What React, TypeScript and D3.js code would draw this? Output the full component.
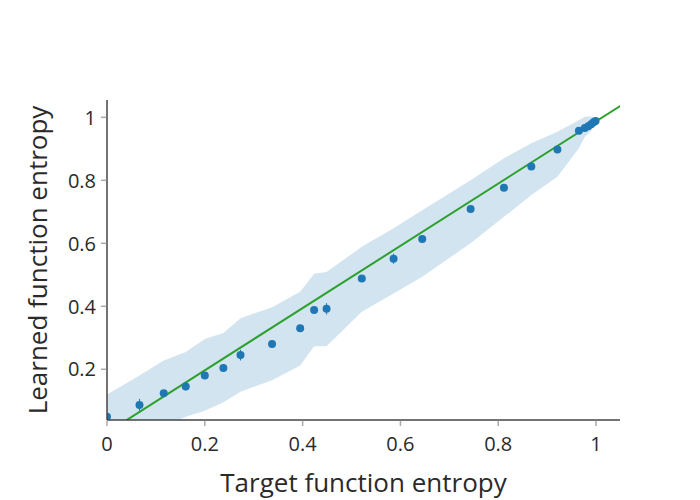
import * as d3 from 'd3';

// readings from the reference plot
const targetEntropy = [0, 0.0665, 0.116, 0.161, 0.2, 0.238, 0.273, 0.3375, 0.395, 0.4235, 0.449, 0.521, 0.586, 0.6446, 0.7435, 0.8117, 0.8677, 0.921, 0.965, 0.977, 0.984, 0.99, 0.995, 0.999];
const learnedEntropy = [0.049, 0.087, 0.124, 0.145, 0.18, 0.204, 0.245, 0.28, 0.33, 0.388, 0.392, 0.488, 0.551, 0.614, 0.709, 0.776, 0.844, 0.898, 0.957, 0.966, 0.972, 0.978, 0.984, 0.988];
const learnedError = [0.01, 0.019, 0.008, 0.012, 0.008, 0.012, 0.017, 0.006, 0.008, 0.01, 0.018, 0.006, 0.016, 0.008, 0.006, 0.006, 0.008, 0.006, 0.008, 0.008, 0.008, 0.008, 0.008, 0.008];
const bandUpper = [0.12, 0.18, 0.228, 0.255, 0.296, 0.315, 0.362, 0.397, 0.446, 0.503, 0.509, 0.589, 0.648, 0.705, 0.8, 0.87, 0.918, 0.954, 0.991, 1.002, 1.003, 1.003, 1.0, 0.996];
const bandLower = [-0.07, -0.02, 0.015, 0.049, 0.068, 0.095, 0.129, 0.165, 0.212, 0.273, 0.273, 0.383, 0.441, 0.494, 0.6, 0.684, 0.753, 0.811, 0.902, 0.938, 0.948, 0.958, 0.97, 0.982];
const refLineX = [0, 1.1];
const refLineY = [-0.001, 1.086];
const xTicks = [0, 0.2, 0.4, 0.6, 0.8, 1];
const yTicks = [0.2, 0.4, 0.6, 0.8, 1];

const W = 700;
const H = 500;
const margin = { left: 107, right: 80, top: 100, bottom: 80 };
const FONT = '"Open Sans", sans-serif';
const TEXT = '#2a2a2a';
const BLUE = '#1f77b4';
const GREEN = '#2ca02c';

const App = () => {
  const x = d3.scaleLinear().domain([0, 1.049]).range([margin.left, W - margin.right]);
  const y = d3.scaleLinear().domain([0.039, 1.055]).range([H - margin.bottom, margin.top]);

  const band = d3
    .area<number>()
    .x((_, i) => x(targetEntropy[i]))
    .y0((_, i) => y(bandLower[i]))
    .y1((d) => y(d));

  const refLine = d3
    .line<number>()
    .x((d) => x(d))
    .y((_, i) => y(refLineY[i]));

  const [x0, x1] = x.range();
  const [yBottom, yTop] = y.range();

  return (
    <div style={{ position: 'absolute', left: 0, top: 0 }}>
      <svg width={W} height={H} style={{ display: 'block', background: '#fff' }}>
        <defs>
          <clipPath id="plot-clip">
            <rect x={x0} y={yTop} width={x1 - x0} height={yBottom - yTop} />
          </clipPath>
        </defs>

        <g clipPath="url(#plot-clip)">
          <path d={band(bandUpper) ?? ''} fill="rgba(31,119,180,0.2)" stroke="none" />
          <path d={refLine(refLineX) ?? ''} fill="none" stroke={GREEN} strokeWidth={2} />
          {targetEntropy.map((t, i) => {
            const cx = x(t);
            return (
              <g key={i}>
                <line
                  x1={cx}
                  x2={cx}
                  y1={y(learnedEntropy[i] - learnedError[i])}
                  y2={y(learnedEntropy[i] + learnedError[i])}
                  stroke={BLUE}
                  strokeWidth={1}
                />
                <circle cx={cx} cy={y(learnedEntropy[i])} r={4} fill={BLUE} />
              </g>
            );
          })}
        </g>

        {/* axes */}
        <line x1={x0} x2={x0} y1={yTop} y2={yBottom} stroke="#444" strokeWidth={1.5} />
        <line x1={x0} x2={x1} y1={yBottom} y2={yBottom} stroke="#444" strokeWidth={1.5} />

        {xTicks.map((t) => (
          <g key={`x${t}`} transform={`translate(${x(t)},${yBottom})`}>
            <line y1={0.75} y2={6} stroke="#aaa" strokeWidth={1.5} />
            <text y={31} textAnchor="middle" fontFamily={FONT} fontSize={20} fill={TEXT}>
              {String(t)}
            </text>
          </g>
        ))}

        {yTicks.map((t) => (
          <g key={`y${t}`} transform={`translate(${x0},${y(t)})`}>
            <line x1={-0.75} x2={-6} stroke="#aaa" strokeWidth={1.5} />
            <text x={-11} dy="0.36em" textAnchor="end" fontFamily={FONT} fontSize={20} fill={TEXT}>
              {String(t)}
            </text>
          </g>
        ))}

        <text
          x={(x0 + x1) / 2}
          y={492}
          textAnchor="middle"
          fontFamily={FONT}
          fontSize={26}
          fill={TEXT}
        >
          Target function entropy
        </text>
        <text
          transform={`translate(47,${(yTop + yBottom) / 2}) rotate(-90)`}
          textAnchor="middle"
          fontFamily={FONT}
          fontSize={26}
          fill={TEXT}
        >
          Learned function entropy
        </text>
      </svg>
    </div>
  );
};

export default App;
